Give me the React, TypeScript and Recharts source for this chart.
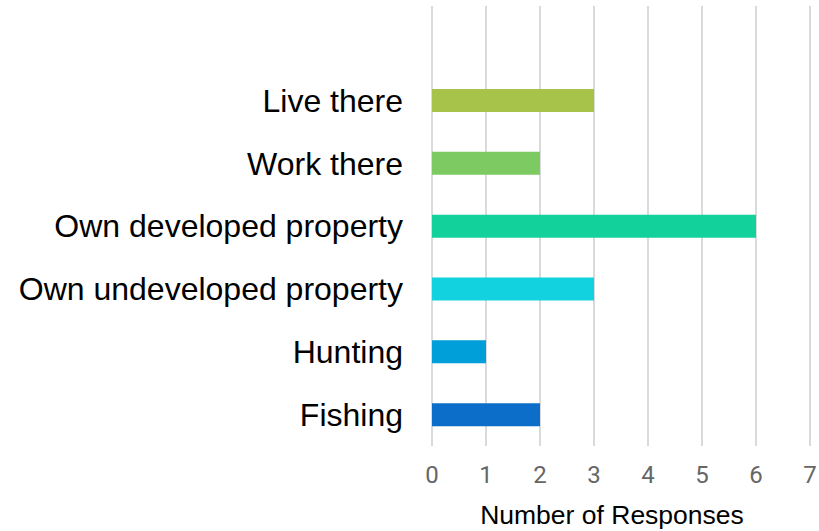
import { BarChart, Bar, XAxis, YAxis, CartesianGrid, Cell } from "recharts"

const categories = [
  "Live there",
  "Work there",
  "Own developed property",
  "Own undeveloped property",
  "Hunting",
  "Fishing",
]
const responses = [3, 2, 6, 3, 1, 2]
const barColors = ["#a7c34a", "#7dc962", "#12d19a", "#11d2de", "#009fd9", "#0c6ec8"]
const xTicks = [0, 1, 2, 3, 4, 5, 6, 7]

const data = categories.map((name, i) => ({ name, value: responses[i] }))

export default function App() {
  return (
    <div style={{ position: "absolute", left: 0, top: 0, background: "#fff" }}>
      <BarChart
        width={819}
        height={531}
        data={data}
        layout="vertical"
        margin={{ top: 6, right: 9, bottom: 0, left: 0 }}
      >
        <CartesianGrid horizontal={false} stroke="#dadada" strokeWidth={2} />
        <XAxis
          type="number"
          domain={[0, 7]}
          ticks={xTicks}
          interval={0}
          axisLine={false}
          tickLine={false}
          tickSize={6}
          tickMargin={14}
          height={85}
          tick={{ fill: "#666666", fontSize: 24, fontFamily: "Roboto" }}
          label={{
            value: "Number of Responses",
            position: "insideBottom",
            offset: 7,
            dx: -9,
            fill: "#000",
            fontSize: 26.5,
            fontFamily: "Liberation Sans",
          }}
        />
        <YAxis
          type="category"
          dataKey="name"
          width={432}
          padding={{ top: 63, bottom: 0 }}
          axisLine={false}
          tickLine={false}
          tickSize={6}
          tickMargin={23}
          interval={0}
          tick={{ fill: "#000", fontSize: 32, fontFamily: "Liberation Sans" }}
        />
        <Bar dataKey="value" barSize={23} isAnimationActive={false}>
          {data.map((d, i) => (
            <Cell key={d.name} fill={barColors[i]} />
          ))}
        </Bar>
      </BarChart>
    </div>
  )
}
